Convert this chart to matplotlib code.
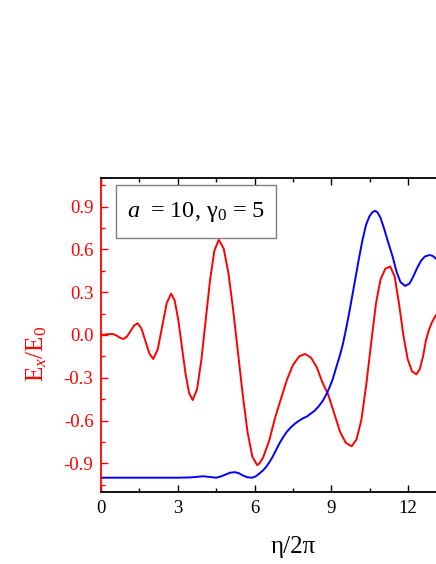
import matplotlib
matplotlib.use('Agg')
from matplotlib import pyplot as plt
from matplotlib.patches import Rectangle
from matplotlib.ticker import MultipleLocator

# Ex/E0 (cervena krivka)
eta_ex = [0.0, 0.15, 0.3, 0.45, 0.59, 0.73, 0.87, 1.01, 1.15, 1.29, 1.43,
          1.58, 1.735, 1.89, 2.04, 2.215, 2.39, 2.565, 2.74, 2.88, 3.02, 3.16,
          3.3, 3.44, 3.58, 3.75, 3.92, 4.09, 4.26, 4.43, 4.6, 4.79, 4.975,
          5.16, 5.35, 5.54, 5.725, 5.91, 6.1, 6.19, 6.33, 6.57, 6.8, 7.04,
          7.27, 7.5, 7.74, 7.97, 8.2, 8.43, 8.65, 8.88, 9.11, 9.34, 9.56,
          9.79, 9.98, 10.17, 10.36, 10.55, 10.74, 10.92, 11.11, 11.3, 11.47,
          11.64, 11.81, 11.98, 12.15, 12.32, 12.45, 12.58, 12.69, 12.8,
          12.93, 13.05, 13.25]
ex = [0.0, 0.003, 0.006, 0.007, -0.002, -0.019, -0.028, -0.012, 0.027, 0.066,
      0.082, 0.045, -0.043, -0.131, -0.168, -0.101, 0.061, 0.223, 0.29,
      0.24, 0.104, -0.083, -0.27, -0.406, -0.456, -0.381, -0.175, 0.106,
      0.386, 0.592, 0.667, 0.607, 0.436, 0.179, -0.123, -0.424, -0.682,
      -0.852, -0.912, -0.90, -0.86, -0.74, -0.58, -0.44, -0.31, -0.21,
      -0.15, -0.133, -0.158, -0.227, -0.333, -0.42, -0.55, -0.68, -0.755,
      -0.78, -0.732, -0.596, -0.35, -0.06, 0.22, 0.39, 0.465, 0.48, 0.41,
      0.22, 0.0, -0.17, -0.255, -0.276, -0.24, -0.15, -0.04, 0.03, 0.09,
      0.13, 0.18]

# modra krivka
eta_b = [0.0, 1.0, 2.0, 3.0, 3.5, 3.75, 3.99, 4.25, 4.5, 4.7, 4.9, 5.05,
         5.22, 5.38, 5.55, 5.72, 5.9, 6.05, 6.19, 6.32, 6.45, 6.58, 6.7,
         6.84, 6.97, 7.1, 7.25, 7.4, 7.55, 7.7, 7.88, 8.05, 8.2, 8.35, 8.5,
         8.65, 8.79, 8.92, 9.05, 9.2, 9.32, 9.44, 9.57, 9.7, 9.83, 9.96,
         10.09, 10.22, 10.35, 10.48, 10.6, 10.7, 10.8, 10.92, 11.05, 11.2,
         11.39, 11.55, 11.7, 11.88, 12.05, 12.2, 12.35, 12.5, 12.65, 12.82,
         12.95, 13.05, 13.25]
blue = [-1.0, -1.0, -1.0, -1.0, -0.998, -0.994, -0.99, -0.995, -1.0, -0.99,
        -0.975, -0.965, -0.961, -0.968, -0.985, -0.997, -1.0, -0.99, -0.97,
        -0.95, -0.925, -0.89, -0.855, -0.805, -0.76, -0.72, -0.68, -0.65,
        -0.625, -0.605, -0.585, -0.57, -0.55, -0.53, -0.5, -0.465, -0.42,
        -0.37, -0.31, -0.22, -0.15, -0.07, 0.04, 0.16, 0.29, 0.42, 0.55,
        0.67, 0.77, 0.83, 0.86, 0.87, 0.86, 0.82, 0.75, 0.66, 0.55, 0.44,
        0.37, 0.344, 0.36, 0.41, 0.47, 0.52, 0.55, 0.56, 0.555, 0.54, 0.51]

x_ticks = [0, 3, 6, 9, 12]
y_ticks = [-0.9, -0.6, -0.3, 0.0, 0.3, 0.6, 0.9]

plt.rcParams['font.family'] = ['Liberation Serif', 'DejaVu Serif']
plt.rcParams['mathtext.fontset'] = 'custom'
plt.rcParams['mathtext.rm'] = 'Liberation Serif'
plt.rcParams['mathtext.it'] = 'Liberation Serif:italic'
plt.rcParams['axes.unicode_minus'] = False

fig = plt.figure(figsize=(4.36, 5.64), dpi=100)
ax = fig.add_axes([0.2317, 0.1277, 0.8807, 0.5567])

ax.plot(eta_ex, ex, color='#ff0000', lw=1.4)
ax.plot(eta_b, blue, color='#0000ff', lw=1.4)

ax.set_xlim(0, 15)
ax.set_ylim(-1.1, 1.1)
ax.set_xticks(x_ticks)
ax.set_yticks(y_ticks)
ax.set_yticklabels(['%.1f' % v for v in y_ticks])
ax.xaxis.set_minor_locator(MultipleLocator(1.5))
ax.yaxis.set_minor_locator(MultipleLocator(0.15))

ax.tick_params(axis='x', which='both', direction='in', top=True, bottom=True,
               labelsize=13.5, pad=5.5, width=1)
ax.tick_params(axis='x', which='major', length=5)
ax.tick_params(axis='x', which='minor', length=3)
ax.tick_params(axis='y', which='both', direction='in', left=True, right=False,
               colors='#ff0000', labelsize=13.5, pad=5.5, width=1)
ax.tick_params(axis='y', which='major', length=5)
ax.tick_params(axis='y', which='minor', length=3)

for s in ['top', 'bottom', 'left', 'right']:
    ax.spines[s].set_linewidth(1.3)
ax.spines['left'].set_color('#ff0000')

ax.set_ylabel(r'E$_x$/E$_0$', color='#ff0000', fontsize=18)
ax.yaxis.set_label_coords(-0.135, 0.44)
ax.set_xlabel('η/2π', fontsize=18)
ax.xaxis.set_label_coords(0.5, -0.14)

# ramecek s popisem
ax.add_patch(Rectangle((0.038, 0.809), 0.418, 0.168, transform=ax.transAxes,
                       facecolor='white', edgecolor='#7f7f7f', lw=1.0, zorder=5))
ax.text(0.247, 0.893, r'$a$' + '\u2009 = 10, γ$_0$ = 5', transform=ax.transAxes,
        ha='center', va='center', fontsize=17.5, zorder=6)

plt.savefig('out.png', dpi=100)
